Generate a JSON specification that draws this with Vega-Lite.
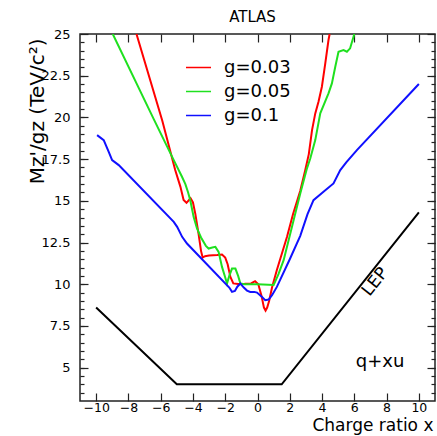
{
  "$schema": "https://vega.github.io/schema/vega-lite/v6.json",
  "width": 355,
  "height": 367,
  "autosize": {"type": "none"},
  "padding": {"left": 80, "top": 34, "right": 2, "bottom": 35},
  "title": {"text": "ATLAS", "fontSize": 15, "font": "DejaVu Sans", "fontWeight": "normal", "color": "#000", "anchor": "middle", "dx": -5, "offset": 3},
  "config": {
    "view": {"stroke": "#222", "strokeWidth": 1.5},
    "font": "DejaVu Sans",
    "axis": {"grid": false, "domain": false, "tickColor": "#222", "tickWidth": 1.2, "labelColor": "#000", "labelFont": "DejaVu Sans", "labelFontSize": 13, "titleFont": "DejaVu Sans", "titleFontWeight": "normal", "titleColor": "#000", "labelFlush": false}
  },
  "datasets": {
    "lep": [
      {"x": -10, "y": 8.6}, {"x": -5, "y": 4.0}, {"x": 1.5, "y": 4.0}, {"x": 10, "y": 14.3}
    ],
    "curves": [
      {"g": "g=0.03", "x": -7.5, "y": 25}, {"g": "g=0.03", "x": -5.9, "y": 19.8}, {"g": "g=0.03", "x": -5.1, "y": 16.85}, {"g": "g=0.03", "x": -4.78, "y": 15.85}, {"g": "g=0.03", "x": -4.58, "y": 15.05}, {"g": "g=0.03", "x": -4.4, "y": 14.88}, {"g": "g=0.03", "x": -4.15, "y": 15.15}, {"g": "g=0.03", "x": -4.0, "y": 14.9}, {"g": "g=0.03", "x": -3.85, "y": 14.2}, {"g": "g=0.03", "x": -3.65, "y": 13.0}, {"g": "g=0.03", "x": -3.5, "y": 12.0}, {"g": "g=0.03", "x": -3.4, "y": 11.6}, {"g": "g=0.03", "x": -3.25, "y": 11.68}, {"g": "g=0.03", "x": -3.0, "y": 11.72}, {"g": "g=0.03", "x": -2.5, "y": 11.75}, {"g": "g=0.03", "x": -2.2, "y": 11.78}, {"g": "g=0.03", "x": -2.0, "y": 11.6}, {"g": "g=0.03", "x": -1.85, "y": 11.2}, {"g": "g=0.03", "x": -1.68, "y": 10.44}, {"g": "g=0.03", "x": -1.5, "y": 10.05}, {"g": "g=0.03", "x": -1.2, "y": 10.02}, {"g": "g=0.03", "x": -0.8, "y": 10.03}, {"g": "g=0.03", "x": -0.4, "y": 10.05}, {"g": "g=0.03", "x": -0.15, "y": 10.18}, {"g": "g=0.03", "x": 0.05, "y": 10.0}, {"g": "g=0.03", "x": 0.25, "y": 9.3}, {"g": "g=0.03", "x": 0.4, "y": 8.6}, {"g": "g=0.03", "x": 0.5, "y": 8.42}, {"g": "g=0.03", "x": 0.6, "y": 8.6}, {"g": "g=0.03", "x": 0.72, "y": 9.0}, {"g": "g=0.03", "x": 0.9, "y": 9.8}, {"g": "g=0.03", "x": 1.2, "y": 10.85}, {"g": "g=0.03", "x": 1.83, "y": 12.85}, {"g": "g=0.03", "x": 2.2, "y": 14.2}, {"g": "g=0.03", "x": 2.65, "y": 15.6}, {"g": "g=0.03", "x": 2.95, "y": 16.8}, {"g": "g=0.03", "x": 3.18, "y": 17.8}, {"g": "g=0.03", "x": 3.38, "y": 19.24}, {"g": "g=0.03", "x": 3.58, "y": 20.24}, {"g": "g=0.03", "x": 3.78, "y": 20.94}, {"g": "g=0.03", "x": 3.99, "y": 21.84}, {"g": "g=0.03", "x": 4.2, "y": 23.24}, {"g": "g=0.03", "x": 4.4, "y": 24.64}, {"g": "g=0.03", "x": 4.47, "y": 25},
      {"g": "g=0.05", "x": -8.97, "y": 25}, {"g": "g=0.05", "x": -6.43, "y": 19.9}, {"g": "g=0.05", "x": -5.19, "y": 17.44}, {"g": "g=0.05", "x": -4.68, "y": 16.44}, {"g": "g=0.05", "x": -4.47, "y": 16.0}, {"g": "g=0.05", "x": -4.3, "y": 15.5}, {"g": "g=0.05", "x": -4.16, "y": 15.0}, {"g": "g=0.05", "x": -3.96, "y": 14.04}, {"g": "g=0.05", "x": -3.75, "y": 13.34}, {"g": "g=0.05", "x": -3.5, "y": 12.8}, {"g": "g=0.05", "x": -3.2, "y": 12.3}, {"g": "g=0.05", "x": -3.03, "y": 12.14}, {"g": "g=0.05", "x": -2.8, "y": 12.2}, {"g": "g=0.05", "x": -2.61, "y": 12.24}, {"g": "g=0.05", "x": -2.41, "y": 11.94}, {"g": "g=0.05", "x": -2.2, "y": 11.04}, {"g": "g=0.05", "x": -2.0, "y": 10.4}, {"g": "g=0.05", "x": -1.89, "y": 10.04}, {"g": "g=0.05", "x": -1.75, "y": 10.5}, {"g": "g=0.05", "x": -1.58, "y": 10.94}, {"g": "g=0.05", "x": -1.37, "y": 10.94}, {"g": "g=0.05", "x": -1.2, "y": 10.5}, {"g": "g=0.05", "x": -1.06, "y": 10.04}, {"g": "g=0.05", "x": -0.8, "y": 10.0}, {"g": "g=0.05", "x": 0.0, "y": 10.0}, {"g": "g=0.05", "x": 1.0, "y": 9.95}, {"g": "g=0.05", "x": 1.3, "y": 10.6}, {"g": "g=0.05", "x": 1.62, "y": 11.44}, {"g": "g=0.05", "x": 2.65, "y": 15.44}, {"g": "g=0.05", "x": 3.05, "y": 16.9}, {"g": "g=0.05", "x": 3.27, "y": 17.54}, {"g": "g=0.05", "x": 3.58, "y": 18.64}, {"g": "g=0.05", "x": 3.89, "y": 20.24}, {"g": "g=0.05", "x": 4.4, "y": 21.44}, {"g": "g=0.05", "x": 4.61, "y": 22.04}, {"g": "g=0.05", "x": 4.82, "y": 23.04}, {"g": "g=0.05", "x": 5.02, "y": 23.94}, {"g": "g=0.05", "x": 5.33, "y": 24.04}, {"g": "g=0.05", "x": 5.54, "y": 23.94}, {"g": "g=0.05", "x": 5.74, "y": 24.14}, {"g": "g=0.05", "x": 5.95, "y": 24.84}, {"g": "g=0.05", "x": 6.0, "y": 25},
      {"g": "g=0.1", "x": -9.94, "y": 18.94}, {"g": "g=0.1", "x": -9.53, "y": 18.64}, {"g": "g=0.1", "x": -9.22, "y": 17.94}, {"g": "g=0.1", "x": -9.01, "y": 17.44}, {"g": "g=0.1", "x": -8.6, "y": 17.14}, {"g": "g=0.1", "x": -5.19, "y": 13.74}, {"g": "g=0.1", "x": -4.98, "y": 13.44}, {"g": "g=0.1", "x": -4.67, "y": 12.84}, {"g": "g=0.1", "x": -4.37, "y": 12.44}, {"g": "g=0.1", "x": -1.75, "y": 9.8}, {"g": "g=0.1", "x": -1.58, "y": 9.54}, {"g": "g=0.1", "x": -1.4, "y": 9.6}, {"g": "g=0.1", "x": -1.25, "y": 9.85}, {"g": "g=0.1", "x": -1.06, "y": 10.04}, {"g": "g=0.1", "x": -0.85, "y": 9.8}, {"g": "g=0.1", "x": -0.65, "y": 9.62}, {"g": "g=0.1", "x": -0.45, "y": 9.54}, {"g": "g=0.1", "x": -0.2, "y": 9.54}, {"g": "g=0.1", "x": -0.03, "y": 9.5}, {"g": "g=0.1", "x": 0.28, "y": 9.24}, {"g": "g=0.1", "x": 0.48, "y": 9.04}, {"g": "g=0.1", "x": 0.69, "y": 9.08}, {"g": "g=0.1", "x": 0.9, "y": 9.34}, {"g": "g=0.1", "x": 1.2, "y": 9.84}, {"g": "g=0.1", "x": 2.0, "y": 11.5}, {"g": "g=0.1", "x": 2.65, "y": 12.9}, {"g": "g=0.1", "x": 3.1, "y": 14.2}, {"g": "g=0.1", "x": 3.47, "y": 15.04}, {"g": "g=0.1", "x": 4.09, "y": 15.54}, {"g": "g=0.1", "x": 4.71, "y": 16.04}, {"g": "g=0.1", "x": 5.13, "y": 16.84}, {"g": "g=0.1", "x": 5.5, "y": 17.3}, {"g": "g=0.1", "x": 6.16, "y": 18.04}, {"g": "g=0.1", "x": 10.0, "y": 22.0}
    ],
    "leplabel": [{"x": 7.29, "y": 10.14, "t": "LEP"}],
    "qlabel": [{"x": 7.6, "y": 5.02, "t": "q+xu"}]
  },
  "layer": [
    {
      "data": {"name": "lep"},
      "mark": {"type": "line", "color": "#000", "strokeWidth": 2, "clip": true},
      "encoding": {
        "x": {"field": "x", "type": "quantitative", "scale": {"domain": [-11, 11], "nice": false, "zero": false},
          "axis": {"orient": "bottom", "values": [-10, -8, -6, -4, -2, 0, 2, 4, 6, 8, 10], "labelExpr": "replace(datum.label, /[-\u2212]/, '\u2212')", "tickSize": -8, "labelPadding": 8, "labelFontSize": 12.5, "title": "Charge ratio x", "titleFontSize": 17, "titleAlign": "right", "titleAnchor": "end", "titleX": 353, "titleY": 29, "titleBaseline": "alphabetic"}},
        "y": {"field": "y", "type": "quantitative", "scale": {"domain": [3, 25], "nice": false, "zero": false},
          "axis": {"orient": "left", "values": [5, 7.5, 10, 12.5, 15, 17.5, 20, 22.5, 25], "format": ".1~f", "tickSize": -8, "labelPadding": 18, "title": "Mz'/gz (TeV/c²)", "titleFontSize": 20, "titleAngle": 270, "titleAlign": "right", "titleX": -37, "titleY": 4, "titleBaseline": "alphabetic"}}
      }
    },
    {
      "data": {"name": "curves"},
      "mark": {"type": "line", "strokeWidth": 2, "clip": true},
      "encoding": {
        "x": {"field": "x", "type": "quantitative", "scale": {"domain": [-11, 11], "nice": false, "zero": false},
          "axis": {"orient": "top", "values": [-10, -8, -6, -4, -2, 0, 2, 4, 6, 8, 10], "tickSize": -8, "labels": false, "title": null}},
        "y": {"field": "y", "type": "quantitative", "scale": {"domain": [3, 25], "nice": false, "zero": false},
          "axis": {"orient": "left", "values": [3.5, 4, 4.5, 5, 5.5, 6, 6.5, 7, 7.5, 8, 8.5, 9, 9.5, 10, 10.5, 11, 11.5, 12, 12.5, 13, 13.5, 14, 14.5, 15, 15.5, 16, 16.5, 17, 17.5, 18, 18.5, 19, 19.5, 20, 20.5, 21, 21.5, 22, 22.5, 23, 23.5, 24, 24.5], "tickSize": -4, "labels": false, "title": null}},
        "color": {"field": "g", "type": "nominal",
          "scale": {"domain": ["g=0.03", "g=0.05", "g=0.1"], "range": ["#ff0000", "#1fe01f", "#1010ff"]},
          "legend": {"orient": "none", "legendX": 105, "legendY": 20, "title": null, "symbolType": "stroke", "symbolSize": 625, "symbolStrokeWidth": 1.5, "labelFontSize": 18, "labelFont": "DejaVu Sans", "labelColor": "#000", "labelOffset": 12, "rowPadding": 1, "padding": 0}}
      }
    },
    {
      "data": {"name": "leplabel"},
      "mark": {"type": "text", "angle": -51.6, "fontSize": 17, "font": "DejaVu Sans", "color": "#000", "align": "center", "baseline": "middle"},
      "encoding": {
        "x": {"field": "x", "type": "quantitative", "scale": {"domain": [-11, 11], "nice": false, "zero": false}, "axis": null},
        "y": {"field": "y", "type": "quantitative", "scale": {"domain": [3, 25], "nice": false, "zero": false},
          "axis": {"orient": "right", "values": [5, 7.5, 10, 12.5, 15, 17.5, 20, 22.5, 25], "tickSize": -8, "labels": false, "title": null}},
        "text": {"field": "t"}
      }
    },
    {
      "data": {"name": "qlabel"},
      "mark": {"type": "text", "fontSize": 18, "font": "DejaVu Sans", "color": "#000", "align": "center", "baseline": "alphabetic"},
      "encoding": {
        "x": {"field": "x", "type": "quantitative", "scale": {"domain": [-11, 11], "nice": false, "zero": false}, "axis": null},
        "y": {"field": "y", "type": "quantitative", "scale": {"domain": [3, 25], "nice": false, "zero": false},
          "axis": {"orient": "right", "values": [3.5, 4, 4.5, 5, 5.5, 6, 6.5, 7, 7.5, 8, 8.5, 9, 9.5, 10, 10.5, 11, 11.5, 12, 12.5, 13, 13.5, 14, 14.5, 15, 15.5, 16, 16.5, 17, 17.5, 18, 18.5, 19, 19.5, 20, 20.5, 21, 21.5, 22, 22.5, 23, 23.5, 24, 24.5], "tickSize": -4, "labels": false, "title": null}},
        "text": {"field": "t"}
      }
    }
  ],
  "resolve": {"axis": {"x": "independent", "y": "independent"}}
}
